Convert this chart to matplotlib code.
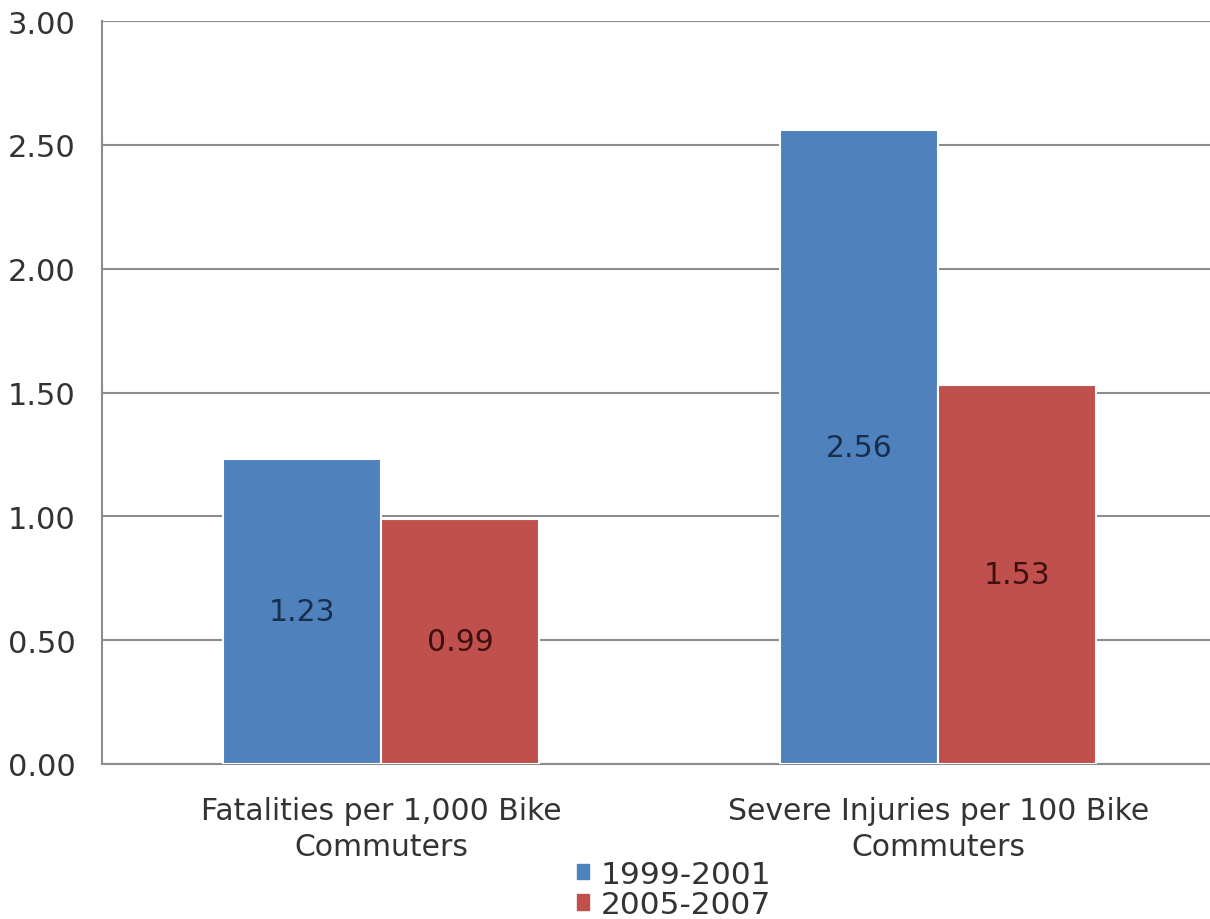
import numpy as np
import matplotlib.pyplot as plt
from matplotlib.patches import Patch

categories = ["Fatalities per 1,000 Bike\nCommuters", "Severe Injuries per 100 Bike\nCommuters"]
series_names = ["1999-2001", "2005-2007"]
vals_1999 = [1.23, 2.56]
vals_2005 = [0.99, 1.53]

blue = "#4F81BD"
red = "#C0504D"

plt.rcParams['font.family'] = ['DejaVu Sans']

fig = plt.figure(figsize=(12.1, 9.2), dpi=100)
ax = fig.add_axes([0.0843, 0.1685, 0.9157, 0.8075])

x = np.arange(len(categories))
w = 0.284
b1 = ax.bar(x - w/2, vals_1999, w, color=blue, edgecolor="white", linewidth=1.5, zorder=3)
b2 = ax.bar(x + w/2, vals_2005, w, color=red, edgecolor="white", linewidth=1.5, zorder=3)

# value labels in the middle of each bar
for bars, vals, tc in [(b1, vals_1999, "#172E4D"), (b2, vals_2005, "#40100E")]:
    for r, v in zip(bars, vals):
        ax.text(r.get_x() + r.get_width()/2, v/2, f"{v:.2f}", ha="center", va="center",
                fontsize=21.5, color=tc, zorder=4)

ax.set_xlim(-0.501, 1.488)
ax.set_ylim(0, 3)
ax.set_yticks(np.arange(0, 3.01, 0.5))
ax.set_yticklabels([f"{t:.2f}" for t in np.arange(0, 3.01, 0.5)])
ax.yaxis.grid(True, color="#8C8C8C", linewidth=1.5, zorder=0)
ax.set_xticks(x)
ax.set_xticklabels(categories, linespacing=1.3)
ax.tick_params(axis="y", length=0, pad=19, labelsize=22, labelcolor="#333333")
ax.tick_params(axis="x", length=0, pad=23, labelsize=21.5, labelcolor="#333333")

for s in ["top", "right"]:
    ax.spines[s].set_visible(False)
ax.spines["left"].set_color("#8C8C8C")
ax.spines["left"].set_linewidth(1.5)
ax.spines["bottom"].set_color("#8C8C8C")
ax.spines["bottom"].set_linewidth(1.5)

handles = [Patch(color=blue), Patch(color=red)]
fig.legend(handles, series_names, loc="lower center", bbox_to_anchor=(0.557, -0.024),
           frameon=False, fontsize=22.5, handlelength=0.4, handleheight=0.4,
           handletextpad=0.35, labelspacing=0.05, borderpad=0.2, labelcolor="#333333")

fig.savefig("out.png", dpi=100)
